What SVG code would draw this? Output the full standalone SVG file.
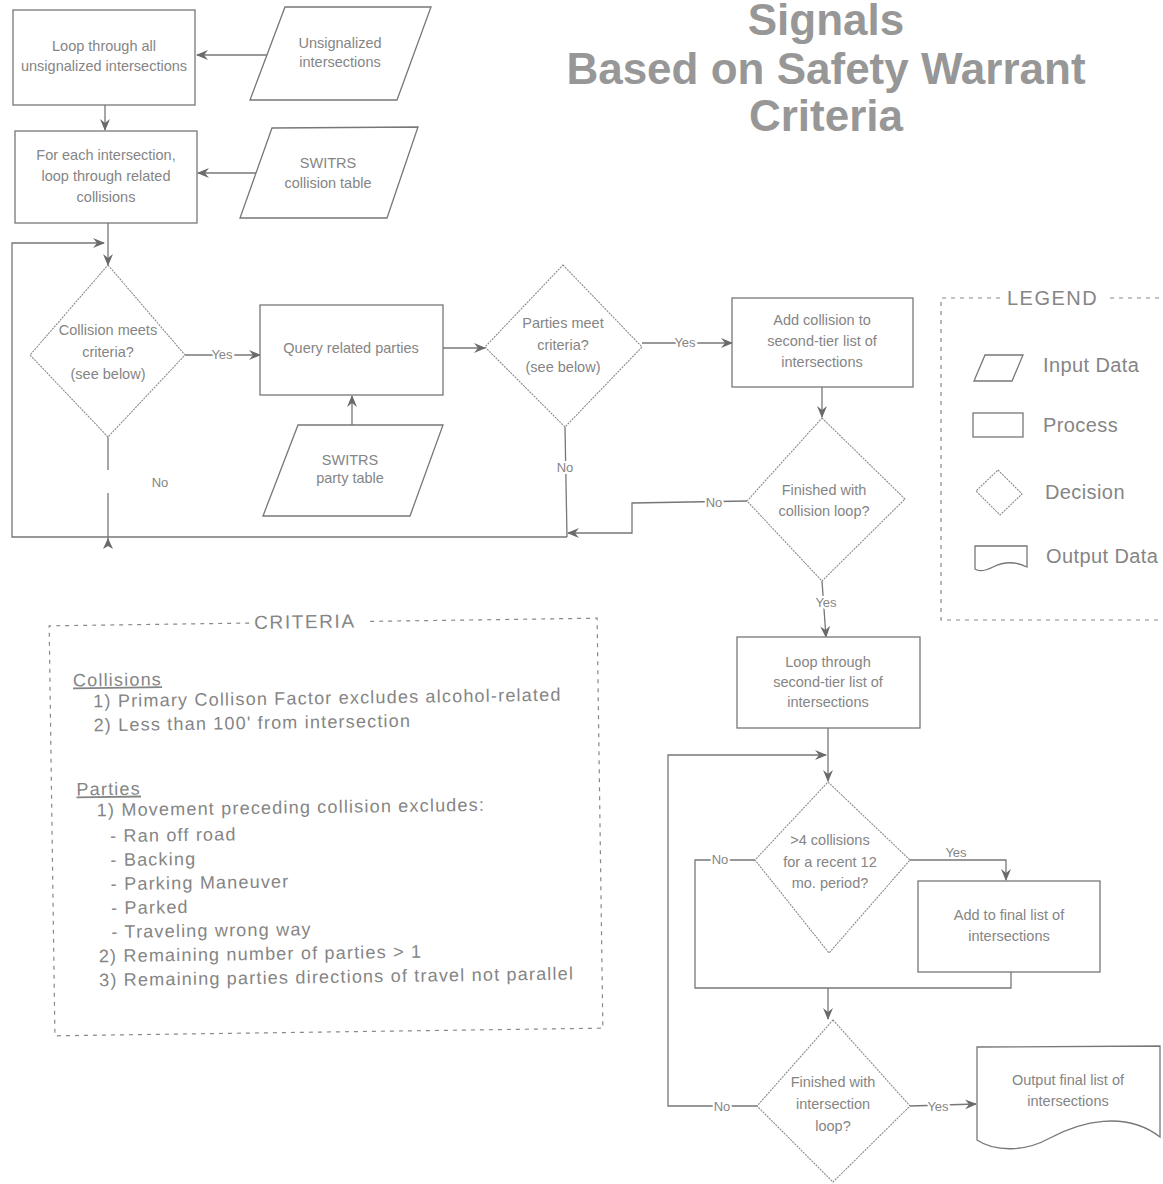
<svg xmlns="http://www.w3.org/2000/svg" width="1163" height="1184" viewBox="0 0 1163 1184">
<style>
text{font-family:"Liberation Sans",Arial,sans-serif;fill:#858585}
.t{font-size:14.5px;text-anchor:middle}
.lbl{font-size:13px;text-anchor:middle;stroke:#fff;stroke-width:4px;paint-order:stroke}
.title{font-size:44px;font-weight:bold;text-anchor:middle;fill:#979797}
.crit{font-size:18px;letter-spacing:1.2px}
.leg{font-size:20px;letter-spacing:0.4px}
.box{fill:#fff;stroke:#777;stroke-width:1.3}
.dia{fill:#fff;stroke:#8a8a8a;stroke-width:1.1;stroke-dasharray:2 1}
.con{fill:none;stroke:#777;stroke-width:1.3}
.dash{fill:none;stroke:#888;stroke-width:1.2;stroke-dasharray:4 5}
</style>
<defs>
<marker id="ah" viewBox="0 0 12 10" refX="11" refY="5" markerWidth="12" markerHeight="10" markerUnits="userSpaceOnUse" orient="auto">
<path d="M0,0 L12,5 L0,10 L4,5 Z" fill="#6a6a6a"/>
</marker>
</defs>
<rect width="1163" height="1184" fill="#fff"/>

<g id="title">
<text class="title" x="826" y="35">Signals</text>
<text class="title" x="826" y="84">Based on Safety Warrant</text>
<text class="title" x="826" y="131">Criteria</text>
</g>

<g id="connectors">
<line class="con" x1="268" y1="55" x2="197" y2="55" marker-end="url(#ah)"/>
<line class="con" x1="105" y1="105" x2="105" y2="130" marker-end="url(#ah)"/>
<line class="con" x1="256" y1="173" x2="198" y2="173" marker-end="url(#ah)"/>
<line class="con" x1="108" y1="223" x2="108" y2="265" marker-end="url(#ah)"/>
<path class="con" d="M567,537 L12,537 L12,243 L104,243" marker-end="url(#ah)"/>
<line class="con" x1="185" y1="355" x2="260" y2="355" marker-end="url(#ah)"/>
<line class="con" x1="108" y1="437" x2="108" y2="470"/>
<line class="con" x1="108" y1="493" x2="108" y2="545"/>
<polygon points="108,538 103,549 108,546 113,549" fill="#6a6a6a"/>
<line class="con" x1="443" y1="348" x2="485" y2="348" marker-end="url(#ah)"/>
<line class="con" x1="352" y1="425" x2="352" y2="396" marker-end="url(#ah)"/>
<line class="con" x1="642" y1="343" x2="732" y2="343" marker-end="url(#ah)"/>
<line class="con" x1="565" y1="427" x2="567" y2="537"/>
<line class="con" x1="822" y1="387" x2="822" y2="417" marker-end="url(#ah)"/>
<path class="con" d="M747,501 L632,503 L632,533 L568,533" marker-end="url(#ah)"/>
<line class="con" x1="822" y1="581" x2="826" y2="637" marker-end="url(#ah)"/>
<line class="con" x1="828" y1="728" x2="828" y2="781" marker-end="url(#ah)"/>
<path class="con" d="M757,1106 L668,1106 L668,755 L826,755" marker-end="url(#ah)"/>
<path class="con" d="M910,860 L1006,860 L1006,880" marker-end="url(#ah)"/>
<path class="con" d="M755,860 L695,860 L695,988 L1011,988 L1011,972"/>
<line class="con" x1="828" y1="988" x2="828" y2="1019" marker-end="url(#ah)"/>
<line class="con" x1="910" y1="1106" x2="976" y2="1104" marker-end="url(#ah)"/>
<text class="lbl" x="222" y="359">Yes</text>
<text class="lbl" x="160" y="487">No</text>
<text class="lbl" x="685" y="347">Yes</text>
<text class="lbl" x="565" y="472">No</text>
<text class="lbl" x="714" y="507">No</text>
<text class="lbl" x="826" y="607">Yes</text>
<text class="lbl" x="720" y="864">No</text>
<text class="lbl" x="956" y="857">Yes</text>
<text class="lbl" x="722" y="1111">No</text>
<text class="lbl" x="938" y="1111">Yes</text>
</g>

<g id="n-loop-all">
<rect class="box" x="13" y="10" width="182" height="95"/>
<text class="t" x="104" y="51">Loop through all</text>
<text class="t" x="104" y="71">unsignalized intersections</text>
</g>
<g id="n-unsignalized">
<polygon class="box" points="285,7 431,7 397,100 250,100"/>
<text class="t" x="340" y="48">Unsignalized</text>
<text class="t" x="340" y="67">intersections</text>
</g>
<g id="n-loop-collisions">
<rect class="box" x="15" y="131" width="182" height="92"/>
<text class="t" x="106" y="160">For each intersection,</text>
<text class="t" x="106" y="181">loop through related</text>
<text class="t" x="106" y="202">collisions</text>
</g>
<g id="n-switrs-collision">
<polygon class="box" points="272,128 418,127 387,218 240,218"/>
<text class="t" x="328" y="168">SWITRS</text>
<text class="t" x="328" y="188">collision table</text>
</g>
<g id="n-collision-criteria">
<polygon class="dia" points="108,265 185,355 108,437 30,355"/>
<text class="t" x="108" y="335">Collision meets</text>
<text class="t" x="108" y="357">criteria?</text>
<text class="t" x="108" y="379">(see below)</text>
</g>
<g id="n-query-parties">
<rect class="box" x="260" y="305" width="183" height="90"/>
<text class="t" x="351" y="353">Query related parties</text>
</g>
<g id="n-switrs-party">
<polygon class="box" points="298,425 443,425 410,516 263,516"/>
<text class="t" x="350" y="465">SWITRS</text>
<text class="t" x="350" y="483">party table</text>
</g>
<g id="n-parties-criteria">
<polygon class="dia" points="563,265 642,347 565,427 485,347"/>
<text class="t" x="563" y="328">Parties meet</text>
<text class="t" x="563" y="350">criteria?</text>
<text class="t" x="563" y="372">(see below)</text>
</g>
<g id="n-add-second-tier">
<rect class="box" x="732" y="298" width="181" height="89"/>
<text class="t" x="822" y="325">Add collision to</text>
<text class="t" x="822" y="346">second-tier list of</text>
<text class="t" x="822" y="367">intersections</text>
</g>
<g id="n-finished-collision">
<polygon class="dia" points="822,418 905,499 822,581 747,501"/>
<text class="t" x="824" y="495">Finished with</text>
<text class="t" x="824" y="516">collision loop?</text>
</g>
<g id="n-loop-second-tier">
<rect class="box" x="737" y="637" width="183" height="91"/>
<text class="t" x="828" y="667">Loop through</text>
<text class="t" x="828" y="687">second-tier list of</text>
<text class="t" x="828" y="707">intersections</text>
</g>
<g id="n-four-collisions">
<polygon class="dia" points="828,782 910,860 829,953 755,860"/>
<text class="t" x="830" y="845">&gt;4 collisions</text>
<text class="t" x="830" y="867">for a recent 12</text>
<text class="t" x="830" y="888">mo. period?</text>
</g>
<g id="n-add-final">
<rect class="box" x="918" y="881" width="182" height="91"/>
<text class="t" x="1009" y="920">Add to final list of</text>
<text class="t" x="1009" y="941">intersections</text>
</g>
<g id="n-finished-intersection">
<polygon class="dia" points="833,1020 910,1106 833,1182 757,1106"/>
<text class="t" x="833" y="1087">Finished with</text>
<text class="t" x="833" y="1109">intersection</text>
<text class="t" x="833" y="1131">loop?</text>
</g>
<g id="n-output">
<path class="box" d="M977,1047 L1160,1046 L1160,1137 C1125,1110 1080,1122 1050,1138 C1025,1152 995,1152 977,1140 Z"/>
<text class="t" x="1068" y="1085">Output final list of</text>
<text class="t" x="1068" y="1106">intersections</text>
</g>

<g id="legend">
<path class="dash" d="M1000,298 L941,298 L941,620 L1163,620 M1110,298 L1163,298"/>
<text class="leg" x="1007" y="305" style="letter-spacing:1.5px">LEGEND</text>
<polygon class="box" points="985,355 1023,355 1012,381 974,381"/>
<text class="leg" x="1043" y="372">Input Data</text>
<rect class="box" x="973" y="413" width="50" height="24"/>
<text class="leg" x="1043" y="432">Process</text>
<polygon class="dia" points="998,470 1022,494 1000,515 976,491"/>
<text class="leg" x="1045" y="499">Decision</text>
<path class="box" d="M975,546 L1027,546 L1027,567 C1015,561 1003,562 993,567 C985,571 979,572 975,569 Z"/>
<text class="leg" x="1046" y="563">Output Data</text>
</g>

<g id="criteria" transform="rotate(-0.8 326 826)">
<path class="dash" d="M252,622 L52,622 L52,1032 L600,1032 L600,622 L372,622"/>
<text class="crit" x="257" y="628" style="font-size:19px;letter-spacing:1.6px">CRITERIA</text>
<text class="crit" x="75" y="683" text-decoration="underline">Collisions</text>
<text class="crit" x="95" y="704">1) Primary Collison Factor excludes alcohol-related</text>
<text class="crit" x="95" y="728">2) Less than 100' from intersection</text>
<text class="crit" x="77" y="792" text-decoration="underline">Parties</text>
<text class="crit" x="97" y="813">1) Movement preceding collision excludes:</text>
<text class="crit" x="110" y="839">- Ran off road</text>
<text class="crit" x="110" y="863">- Backing</text>
<text class="crit" x="110" y="887">- Parking Maneuver</text>
<text class="crit" x="110" y="911">- Parked</text>
<text class="crit" x="110" y="935">- Traveling wrong way</text>
<text class="crit" x="97" y="959">2) Remaining number of parties &gt; 1</text>
<text class="crit" x="97" y="983">3) Remaining parties directions of travel not parallel</text>
</g>
</svg>
